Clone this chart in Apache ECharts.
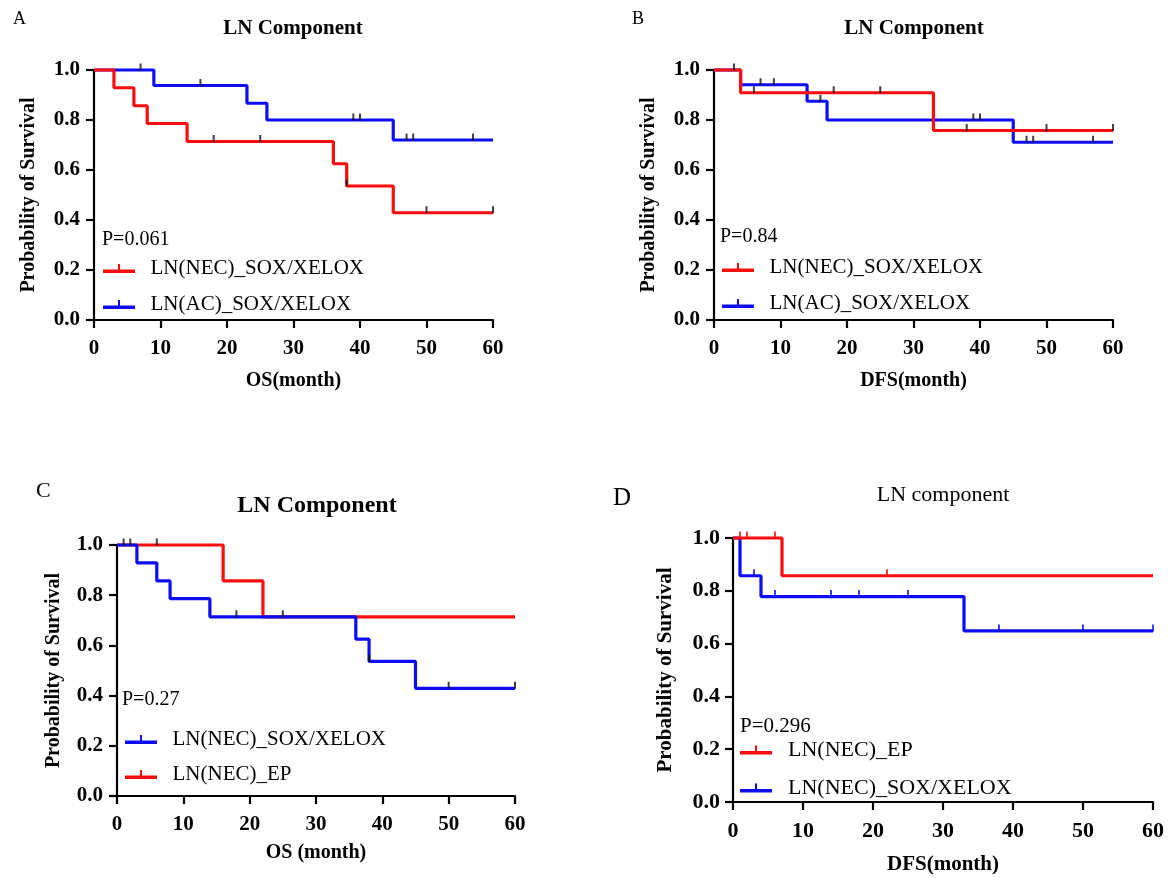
<!DOCTYPE html>
<html><head><meta charset="utf-8">
<script src="https://cdn.jsdelivr.net/npm/echarts/dist/echarts.min.js"></script>
<style>html,body{margin:0;padding:0;background:#fff}#c{width:1173px;height:878px}</style>
</head><body><div id="c"></div><script>
// ---------- data ----------
const xTicks = [0, 10, 20, 30, 40, 50, 60];
const yTicks = [0, 0.2, 0.4, 0.6, 0.8, 1.0];

// Panel A (OS)
const aNecTimes = [0, 3, 6, 8, 14, 36, 38, 45, 60];
const aNecSurv  = [1.0, 0.929, 0.857, 0.786, 0.714, 0.625, 0.536, 0.429, 0.429];
const aNecCens  = [18, 25, 38, 50, 60];
const aAcTimes  = [0, 9, 23, 26, 45, 60];
const aAcSurv   = [1.0, 0.938, 0.867, 0.8, 0.72, 0.72];
const aAcCens   = [7, 16, 39, 40, 47, 48, 57];

// Panel B (DFS)
const bNecTimes = [0, 4, 33, 60];
const bNecSurv  = [1.0, 0.909, 0.758, 0.758];
const bNecCens  = [3, 6, 18, 25, 38, 50, 60];
const bAcTimes  = [0, 4, 14, 17, 45, 60];
const bAcSurv   = [1.0, 0.941, 0.875, 0.8, 0.711, 0.711];
const bAcCens   = [7, 9, 16, 39, 40, 47, 48, 57];

// Panel C (OS)
const cSoxTimes = [0, 3, 6, 8, 14, 36, 38, 45, 60];
const cSoxSurv  = [1.0, 0.929, 0.857, 0.786, 0.714, 0.625, 0.536, 0.429, 0.429];
const cSoxCens  = [18, 25, 38, 50, 60];
const cEpTimes  = [0, 16, 22, 60];
const cEpSurv   = [1.0, 0.857, 0.714, 0.714];
const cEpCens   = [1, 2, 6];

// Panel D (DFS)
const dEpTimes  = [0, 7, 60];
const dEpSurv   = [1.0, 0.857, 0.857];
const dEpCens   = [1, 2, 6, 22];
const dSoxTimes = [0, 1, 4, 33, 60];
const dSoxSurv  = [1.0, 0.857, 0.778, 0.648, 0.648];
const dSoxCens  = [3, 6, 14, 18, 25, 38, 50, 60];

const labels = {
  necSox: 'LN(NEC)_SOX/XELOX',
  acSox: 'LN(AC)_SOX/XELOX',
  necEp: 'LN(NEC)_EP'
};
const pValues = ['P=0.061', 'P=0.84', 'P=0.27', 'P=0.296'];
const panelTitles = ['LN Component', 'LN Component', 'LN Component', 'LN component'];
const panelLetters = ['A', 'B', 'C', 'D'];
const xNames = ['OS(month)', 'DFS(month)', 'OS (month)', 'DFS(month)'];
const yName = 'Probability of Survival';

// ---------- helpers ----------
const FONT = "'Liberation Serif', 'Times New Roman', serif";
const RED = '#fb0d0d', BLUE = '#0d0df5';
function pts(t, s) { return t.map((v, i) => [v, s[i]]); }
function survAt(t, s, x) { let v = s[0]; for (let i = 0; i < t.length; i++) if (t[i] <= x) v = s[i]; return v; }
function cens(t, s, c) { return c.map(x => [x, survAt(t, s, x)]); }

// curves: [panel, key, times, surv, censors, color, censorColor] in drawing order
const curves = [
  [0, 'acSox', aAcTimes, aAcSurv, aAcCens, BLUE, '#111'],
  [0, 'necSox', aNecTimes, aNecSurv, aNecCens, RED, '#111'],
  [1, 'acSox', bAcTimes, bAcSurv, bAcCens, BLUE, '#111'],
  [1, 'necSox', bNecTimes, bNecSurv, bNecCens, RED, '#111'],
  [2, 'necEp', cEpTimes, cEpSurv, cEpCens, RED, '#111'],
  [2, 'necSox', cSoxTimes, cSoxSurv, cSoxCens, BLUE, '#111'],
  [3, 'necSox', dSoxTimes, dSoxSurv, dSoxCens, BLUE, BLUE],
  [3, 'necEp', dEpTimes, dEpSurv, dEpCens, RED, RED]
];
const legendOrder = [['necSox', 'acSox'], ['necSox', 'acSox'], ['necSox', 'necEp'], ['necEp', 'necSox']];

const layout = [
  { grid: { left: 94, top: 70, width: 399, height: 250 }, fs: 21, nameFs: 20, xGap: 51, yGap: 55, xMargin: 18, yMargin: 14,
    legend: { left: 103, top: 258, gap: 15, fs: 21 }, p: [102, 240, 20], title: [293, 29, 21, 'bold'], letter: [13, 19, 18] },
  { grid: { left: 714, top: 70, width: 399, height: 250 }, fs: 21, nameFs: 20, xGap: 51, yGap: 55, xMargin: 18, yMargin: 14,
    legend: { left: 722, top: 257, gap: 15, fs: 21 }, p: [720, 237, 20], title: [914, 29, 21, 'bold'], letter: [632, 19, 18] },
  { grid: { left: 117, top: 545, width: 398, height: 251 }, fs: 21, nameFs: 20, xGap: 47, yGap: 53, xMargin: 18, yMargin: 14,
    legend: { left: 125, top: 729, gap: 14, fs: 21 }, p: [122, 700, 20], title: [317, 506, 24, 'bold'], letter: [36, 491, 22] },
  { grid: { left: 733, top: 538, width: 420, height: 264 }, fs: 22, nameFs: 21, xGap: 52, yGap: 57, xMargin: 18, yMargin: 13,
    legend: { left: 740, top: 739, gap: 16, fs: 22 }, p: [740, 726, 21], title: [943, 495, 22, 'normal'], letter: [613, 498, 25] }
];

const ICON = 'path://M0,5.5 L32,5.5 L32,9 L0,9 Z M15,0 L17,0 L17,5.5 L15,5.5 Z';

const option = {
  animation: false,
  backgroundColor: '#fff',
  grid: layout.map(l => Object.assign({ containLabel: false }, l.grid)),
  xAxis: layout.map((l, i) => ({
    gridIndex: i, type: 'value', min: 0, max: 60, interval: 10,
    name: xNames[i], nameLocation: 'middle', nameGap: l.xGap, nameMoveOverlap: false,
    nameTextStyle: { fontFamily: FONT, fontWeight: 'bold', fontSize: l.nameFs, color: '#000' },
    axisLine: { show: true, onZero: false, lineStyle: { color: '#000', width: 2.2 } },
    axisTick: { show: true, length: 8, lineStyle: { color: '#000', width: 2.2 } },
    axisLabel: { show: true, fontFamily: FONT, fontWeight: 'bold', fontSize: l.fs, color: '#000', margin: l.xMargin,
      showMinLabel: true, showMaxLabel: true, hideOverlap: false,
      formatter: v => xTicks.includes(v) ? String(v) : '' },
    splitLine: { show: false }
  })),
  yAxis: layout.map((l, i) => ({
    gridIndex: i, type: 'value', min: 0, max: 1, interval: 0.2,
    name: yName, nameLocation: 'middle', nameGap: l.yGap, nameMoveOverlap: false,
    nameTextStyle: { fontFamily: FONT, fontWeight: 'bold', fontSize: l.nameFs, color: '#000' },
    axisLine: { show: true, onZero: false, lineStyle: { color: '#000', width: 2.2 } },
    axisTick: { show: true, length: 8, lineStyle: { color: '#000', width: 2.2 } },
    axisLabel: { show: true, fontFamily: FONT, fontWeight: 'bold', fontSize: l.fs, color: '#000', margin: l.yMargin,
      showMinLabel: true, showMaxLabel: true, hideOverlap: false,
      formatter: v => yTicks.some(t => Math.abs(t - v) < 1e-9) ? v.toFixed(1) : '' },
    splitLine: { show: false }
  })),
  legend: layout.map((l, i) => ({
    left: l.legend.left, top: l.legend.top, orient: 'vertical', padding: 0,
    itemGap: l.legend.gap, itemWidth: 32, itemHeight: 9, icon: ICON,
    selectedMode: false,
    data: legendOrder[i].map(k => panelLetters[i] + '|' + labels[k]),
    formatter: n => '  ' + n.split('|')[1],
    itemStyle: { borderWidth: 0 },
    textStyle: { fontFamily: FONT, fontSize: l.legend.fs, color: '#000', lineHeight: 20 }
  })),
  series: [],
  graphic: []
};

curves.forEach(([pi, key, t, s, c, col, ccol]) => {
  option.series.push({
    type: 'line', name: panelLetters[pi] + '|' + labels[key],
    xAxisIndex: pi, yAxisIndex: pi, step: 'end', data: pts(t, s),
    symbol: 'none', showSymbol: false, clip: false, color: col,
    lineStyle: { color: col, width: 3.2 }, itemStyle: { color: col, borderWidth: 0 }
  });
});
curves.forEach(([pi, key, t, s, c, col, ccol]) => {
  option.series.push({
    type: 'scatter', name: 'censor' + pi + key,
    xAxisIndex: pi, yAxisIndex: pi, data: cens(t, s, c), clip: false, silent: true,
    symbol: 'rect', symbolSize: [2, 7], symbolOffset: [0, -3],
    itemStyle: { color: ccol }, z: 3
  });
});

layout.forEach((l, i) => {
  option.graphic.push({ type: 'text', x: l.letter[0], y: l.letter[1],
    style: { text: panelLetters[i], fontFamily: FONT, fontSize: l.letter[2], fill: '#000', align: 'left', verticalAlign: 'middle' } });
  option.graphic.push({ type: 'text', x: l.title[0], y: l.title[1],
    style: { text: panelTitles[i], fontFamily: FONT, fontSize: l.title[2], fontWeight: l.title[3], fill: '#000', align: 'center', verticalAlign: 'middle' } });
  option.graphic.push({ type: 'text', x: l.p[0], y: l.p[1],
    style: { text: pValues[i], fontFamily: FONT, fontSize: l.p[2], fill: '#000', align: 'left', verticalAlign: 'middle' } });
});

const chart = echarts.init(document.getElementById('c'), null, { renderer: 'canvas' });
chart.setOption(option);
</script></body></html>
